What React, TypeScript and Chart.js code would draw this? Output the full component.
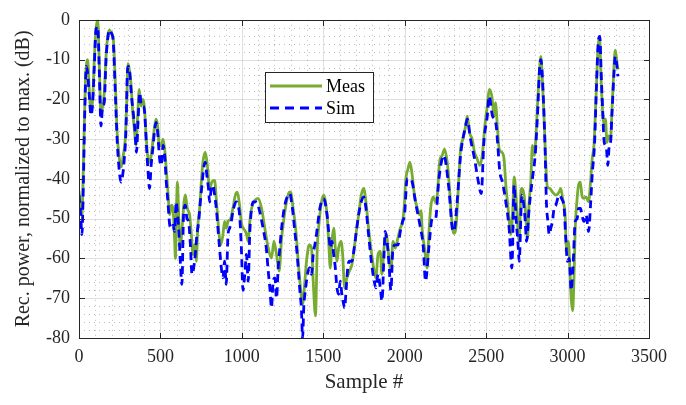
import React, { useEffect, useRef } from 'react';
import { Chart, registerables } from 'chart.js';

Chart.register(...registerables);

// ---------- data ----------
const measSamples = [
  0, 10, 18, 27, 39, 53, 63, 74, 84, 94, 104, 115, 125, 135, 145, 155, 166, 176, 186, 200,
  211, 223, 235, 248, 260, 272, 284, 293, 301, 309, 319, 330, 340, 350, 360, 370, 381, 391, 401, 411,
  421, 436, 448, 462, 473, 483, 493, 505, 516, 526, 536, 546, 557, 567, 577, 587, 592, 600, 604, 612,
  622, 632, 645, 653, 665, 679, 690, 700, 710, 720, 730, 741, 751, 761, 775, 788, 802, 816, 833, 843,
  857, 870, 884, 894, 904, 915, 931, 945, 960, 972, 986, 997, 1008, 1019, 1029, 1039, 1049, 1060, 1080, 1100,
  1121, 1141, 1162, 1182, 1197, 1213, 1229, 1244, 1258, 1274, 1291, 1299, 1315, 1332, 1346, 1360, 1373, 1387, 1397, 1414,
  1428, 1438, 1452, 1463, 1475, 1489, 1504, 1523, 1533, 1543, 1553, 1564, 1574, 1584, 1594, 1609, 1619, 1631, 1645, 1660,
  1676, 1690, 1703, 1717, 1733, 1748, 1762, 1778, 1795, 1809, 1823, 1836, 1850, 1860, 1873, 1887, 1901, 1915, 1928, 1942,
  1958, 1973, 1987, 1999, 2005, 2020, 2032, 2046, 2060, 2077, 2091, 2100, 2108, 2122, 2138, 2148, 2159, 2175, 2189, 2200,
  2214, 2230, 2245, 2261, 2275, 2288, 2302, 2316, 2329, 2343, 2357, 2374, 2384, 2398, 2414, 2429, 2445, 2461, 2476, 2492,
  2507, 2519, 2535, 2549, 2557, 2570, 2580, 2596, 2610, 2621, 2631, 2641, 2651, 2662, 2672, 2682, 2692, 2703, 2713, 2719,
  2733, 2743, 2754, 2764, 2774, 2784, 2795, 2805, 2815, 2825, 2836, 2846, 2856, 2866, 2876, 2891, 2907, 2928, 2948, 2958,
  2973, 2985, 2993, 3005, 3014, 3022, 3031, 3039, 3047, 3057, 3067, 3078, 3088, 3100, 3114, 3129, 3141, 3151, 3162, 3170,
  3178, 3186, 3196, 3207, 3217, 3227, 3233, 3241, 3252, 3264, 3272, 3282, 3293, 3301, 3309,
];
const measValues = [
  -43, -48, -49, -36.6, -16, -10, -17.5, -23.3, -20, -10, -2.6, 0, -11.7, -24, -21.7, -18.4, -9.2, -4.2, -2.6, -3.4,
  -5, -15.9, -29, -35, -37, -34, -30, -20.8, -11, -12.5, -16, -23.3, -27.5, -31.6, -24.2, -17.5, -21.7, -20, -21.7, -28.3,
  -34, -35.8, -32.5, -27.5, -25, -26.7, -31.6, -31.6, -30, -32.5, -37.5, -43.3, -49, -46.6, -47.4, -55, -60, -45, -40.8, -49,
  -57.4, -53, -45.8, -44, -47.4, -49, -54, -59, -56.6, -60.7, -51.6, -47.4, -40.8, -35.8, -33.3, -36.6, -42.4, -40.8, -40.4, -45,
  -52.4, -56.6, -54, -50.7, -52.4, -50.7, -50, -47.4, -44.1, -43.3, -46.6, -51, -52.4, -53, -54, -55.7, -50.7, -47.4, -45.4, -44.9,
  -47.4, -52.4, -57.4, -59.9, -55.7, -59, -63.2, -54.9, -50, -45.8, -43.3, -43.3, -47.4, -53.2, -60.7, -67.4, -71.5, -65.7, -60.7, -56.6,
  -57.4, -65.7, -74.4, -57.4, -50.7, -45.8, -44.1, -49, -55.7, -62.4, -55.7, -52.4, -57.4, -60.7, -57.4, -55.7, -59, -67.4, -64.9, -63.2,
  -61.5, -57.4, -53.2, -49, -44.1, -42.4, -45.8, -52.4, -58.2, -62.4, -64.9, -59, -58.2, -64, -57.4, -54, -59, -63.2, -55.7, -57.4,
  -54.9, -52.4, -50.7, -45.8, -40.8, -37.5, -35.8, -39.1, -44.1, -47.4, -49, -48, -53.2, -57.4, -62.4, -54, -47.4, -44.5, -45.8, -44.1,
  -35.8, -34.1, -32.5, -35.8, -42.4, -50, -53.7, -51.6, -42.4, -32.5, -30, -26.7, -24.2, -28.3, -30, -33.3, -35, -36.6, -34.1, -26.7,
  -21.7, -17.5, -19.2, -24.2, -20.8, -27.5, -32.5, -33.3, -35, -41.6, -45.8, -50, -54, -49, -39.5, -43.3, -50.7, -55.7, -43.3, -42.4,
  -44.1, -49, -54.9, -45.8, -40.8, -31.6, -34.1, -30, -21.7, -14.2, -9.2, -15.9, -25, -35.8, -42, -42.4, -43.3, -44.1, -43.3, -42.4,
  -45.8, -49, -57.4, -55.7, -62.4, -70, -73.2, -65.7, -52.4, -45.8, -41.6, -40.8, -44.1, -44.9, -44.5, -45.8, -40.8, -35, -31.6, -24.2,
  -15.9, -7.6, -4.2, -15.9, -24.2, -26.7, -25, -30.8, -29.2, -30, -23.3, -14.2, -7.6, -10, -12.5,
];

const simSamples = [
  0, 10, 18, 27, 35, 45, 53, 63, 74, 84, 94, 104, 115, 125, 135, 145, 155, 166, 176, 186,
  200, 211, 223, 235, 248, 258, 268, 278, 288, 298, 304, 312, 322, 333, 343, 353, 363, 373, 383, 393,
  403, 413, 423, 433, 443, 453, 463, 473, 483, 495, 505, 516, 526, 536, 546, 557, 567, 577, 587, 597,
  604, 612, 622, 632, 642, 653, 663, 673, 684, 694, 704, 714, 724, 735, 745, 755, 765, 775, 785, 795,
  802, 812, 822, 833, 843, 853, 863, 874, 884, 894, 904, 915, 925, 935, 945, 955, 966, 976, 986, 997,
  1007, 1018, 1028, 1039, 1049, 1060, 1070, 1090, 1110, 1130, 1150, 1162, 1172, 1182, 1192, 1203, 1213, 1223, 1233, 1244,
  1254, 1264, 1274, 1285, 1295, 1305, 1315, 1325, 1336, 1346, 1356, 1366, 1373, 1380, 1387, 1397, 1407, 1417, 1428, 1438,
  1448, 1458, 1468, 1479, 1489, 1499, 1508, 1523, 1533, 1543, 1553, 1564, 1574, 1584, 1594, 1604, 1614, 1625, 1631, 1640,
  1650, 1660, 1676, 1690, 1703, 1717, 1733, 1748, 1762, 1778, 1795, 1809, 1823, 1836, 1850, 1860, 1873, 1880, 1894, 1905,
  1915, 1928, 1942, 1958, 1973, 1987, 1999, 2015, 2036, 2046, 2066, 2097, 2113, 2128, 2148, 2169, 2189, 2210, 2240, 2271,
  2292, 2302, 2322, 2343, 2374, 2384, 2404, 2429, 2449, 2470, 2486, 2507, 2518, 2539, 2559, 2576, 2584, 2600, 2621, 2641,
  2658, 2672, 2682, 2696, 2703, 2719, 2739, 2748, 2764, 2784, 2801, 2815, 2829, 2836, 2850, 2862, 2870, 2879, 2887, 2897,
  2907, 2917, 2928, 2948, 2964, 2979, 2989, 2999, 3010, 3022, 3033, 3047, 3059, 3067, 3080, 3088, 3100, 3114, 3129, 3141,
  3151, 3166, 3178, 3190, 3198, 3207, 3217, 3223, 3231, 3239, 3247, 3256, 3264, 3272, 3284, 3293, 3301, 3309,
];
const simValues = [
  -44, -49, -54, -41, -24, -11.7, -13.4, -19, -24, -20.8, -11.7, -2.6, -1.7, -13.4, -26.7, -21.7, -20.8, -10, -5, -2.6,
  -3.4, -5.9, -18.4, -30.8, -38.3, -40.8, -39.1, -35, -28.3, -12.5, -11.7, -13.4, -19, -23.3, -27.5, -33.3, -25, -18.3, -21.7, -21.7,
  -23.3, -30.8, -37.5, -42.4, -36.6, -32.5, -28.3, -25.8, -28.3, -35, -36.6, -31.6, -34.1, -40.8, -45.8, -51.6, -52.4, -51.6, -53.2, -45.8,
  -48.3, -52.4, -60.7, -66.5, -49, -46.6, -50, -50.7, -56.6, -64, -62.4, -59, -54, -50.7, -45.8, -41.6, -37.5, -35.8, -39.1, -42.4,
  -45.8, -42.4, -41.6, -44.1, -47.4, -52.4, -57.4, -62.4, -64.9, -60.7, -66.5, -54, -52.4, -50.7, -48.3, -46.6, -45.8, -46.6, -49, -57.4,
  -68, -64, -59, -65.7, -53.2, -47.4, -45.8, -45.8, -48.3, -52.4, -57.4, -63.2, -67.4, -72.4, -65.7, -64.9, -70, -62.4, -57.4, -52.4,
  -49, -46.6, -45, -44.1, -43.7, -45.8, -49, -53.2, -57.4, -62.4, -68, -73, -80, -72.4, -69, -65.7, -63.2, -62.4, -64, -59,
  -56.6, -54, -50.7, -47.4, -45.8, -45, -45.4, -49, -53.2, -57.4, -55.7, -59, -62.4, -67.4, -69, -65.7, -69, -71.5, -72.4, -68,
  -62.4, -60.7, -60.7, -57.4, -53.2, -49, -45.8, -44.5, -47.4, -54, -60.7, -64.9, -67.4, -64, -67.4, -70.7, -59, -53.2, -56.6, -62.4,
  -68, -57.4, -56.6, -56.6, -53.2, -50.7, -49, -40, -40, -40.8, -45.8, -52.4, -56.6, -65.7, -57.4, -50, -50, -40, -34.1, -42.4,
  -52.4, -53.2, -45.8, -34.1, -26.7, -25, -30, -35, -40, -43.7, -30.8, -24.2, -19.2, -24.2, -25.8, -34.1, -38.3, -40.8, -45.8, -52.4,
  -62.4, -41.6, -49, -56.6, -60.7, -44.1, -50, -55.7, -47.4, -40, -34.1, -24.2, -11.7, -10, -18.4, -32.5, -45.8, -50.7, -54, -52.4,
  -50.7, -47.4, -46.6, -44.1, -45, -47.4, -55, -60.7, -60, -68, -62.4, -50.7, -50, -47.4, -47.4, -49, -50.7, -49, -53.2, -46.6,
  -39.1, -30.8, -15.9, -5, -4.2, -14.2, -24.2, -30, -31.6, -32.5, -36.6, -31.6, -30.8, -24.2, -14.2, -9.2, -10.9, -14.2,
];

const seriesNames = ['Meas', 'Sim'];
const seriesColors = ['#77AC30', '#0000FF'];
const xTickValues = [0, 500, 1000, 1500, 2000, 2500, 3000, 3500];
const yTickValues = [-80, -70, -60, -50, -40, -30, -20, -10, 0];
const xMinorStep = 100;
const yMinorStep = 2;
const xTitle = 'Sample #';
const yTitle = 'Rec. power, normalized to max. (dB)';

const FONT = "'Liberation Serif', 'Times New Roman', serif";
const AXIS_COLOR = '#262626';

const matlabPlugin = {
  id: 'matlabAxes',
  beforeDatasetsDraw(chart: any) {
    const { ctx, chartArea: a, scales } = chart;
    const xs = scales.x, ys = scales.y;
    ctx.save();
    // minor dotted grid
    ctx.strokeStyle = 'rgba(38,38,38,0.3)';
    ctx.lineWidth = 1;
    ctx.setLineDash([1, 4]);
    for (let v = xs.min; v <= xs.max; v += xMinorStep) {
      if (xTickValues.includes(v)) continue;
      const px = Math.round(xs.getPixelForValue(v)) + 0.5;
      ctx.beginPath(); ctx.moveTo(px, a.top); ctx.lineTo(px, a.bottom); ctx.stroke();
    }
    for (let v = ys.min; v <= ys.max; v += yMinorStep) {
      if (yTickValues.includes(v)) continue;
      const py = Math.round(ys.getPixelForValue(v)) + 0.5;
      ctx.beginPath(); ctx.moveTo(a.left, py); ctx.lineTo(a.right, py); ctx.stroke();
    }
    // major solid grid
    ctx.setLineDash([]);
    ctx.strokeStyle = 'rgba(38,38,38,0.15)';
    xTickValues.forEach((v) => {
      const px = Math.round(xs.getPixelForValue(v)) + 0.5;
      ctx.beginPath(); ctx.moveTo(px, a.top); ctx.lineTo(px, a.bottom); ctx.stroke();
    });
    yTickValues.forEach((v) => {
      const py = Math.round(ys.getPixelForValue(v)) + 0.5;
      ctx.beginPath(); ctx.moveTo(a.left, py); ctx.lineTo(a.right, py); ctx.stroke();
    });
    ctx.restore();
  },
  afterDatasetsDraw(chart: any) {
    const { ctx, chartArea: a, scales } = chart;
    const xs = scales.x, ys = scales.y;
    ctx.save();
    ctx.setLineDash([]);
    ctx.strokeStyle = AXIS_COLOR;
    ctx.lineWidth = 1;
    const L = Math.round(a.left) + 0.5, R = Math.round(a.right) + 0.5;
    const T = Math.round(a.top) + 0.5, B = Math.round(a.bottom) + 0.5;
    ctx.strokeRect(L, T, R - L, B - T);
    const tl = 5.5;
    xTickValues.forEach((v) => {
      const px = Math.round(xs.getPixelForValue(v)) + 0.5;
      ctx.beginPath();
      ctx.moveTo(px, B); ctx.lineTo(px, B - tl);
      ctx.moveTo(px, T); ctx.lineTo(px, T + tl);
      ctx.stroke();
    });
    yTickValues.forEach((v) => {
      const py = Math.round(ys.getPixelForValue(v)) + 0.5;
      ctx.beginPath();
      ctx.moveTo(L, py); ctx.lineTo(L + tl, py);
      ctx.moveTo(R, py); ctx.lineTo(R - tl, py);
      ctx.stroke();
    });

    // legend
    const lx = 265.5, ly = 72.5, lw = 108, lh = 50;
    ctx.fillStyle = '#ffffff';
    ctx.fillRect(lx, ly, lw, lh);
    ctx.strokeStyle = AXIS_COLOR;
    ctx.strokeRect(lx, ly, lw, lh);
    const rows = [86, 108];
    seriesNames.forEach((name, i) => {
      ctx.beginPath();
      ctx.lineWidth = 2.8;
      ctx.strokeStyle = seriesColors[i];
      ctx.setLineDash(i === 1 ? [9, 6] : []);
      ctx.moveTo(270, rows[i]); ctx.lineTo(322, rows[i]);
      ctx.stroke();
      ctx.setLineDash([]);
      ctx.fillStyle = '#000000';
      ctx.font = `18px ${FONT}`;
      ctx.textBaseline = 'middle';
      ctx.textAlign = 'left';
      ctx.fillText(name, 326, rows[i] + 1);
    });
    ctx.restore();
  },
};

export default function App() {
  const ref = useRef<HTMLCanvasElement | null>(null);
  useEffect(() => {
    document.body.style.margin = '0';
    const canvas = ref.current!;
    const chart = new Chart(canvas, {
      type: 'line',
      data: {
        datasets: [
          {
            label: seriesNames[0],
            data: measSamples.map((x, i) => ({ x, y: measValues[i] })),
            borderColor: seriesColors[0],
            borderWidth: 2.8,
            pointRadius: 0,
            fill: false,
            cubicInterpolationMode: 'monotone',
            order: 1,
          },
          {
            label: seriesNames[1],
            data: simSamples.map((x, i) => ({ x, y: simValues[i] })),
            borderColor: seriesColors[1],
            borderWidth: 2.8,
            borderDash: [8, 5],
            pointRadius: 0,
            fill: false,
            cubicInterpolationMode: 'monotone',
            order: 0,
          },
        ],
      },
      options: {
        responsive: false,
        animation: false,
        devicePixelRatio: 1,
        layout: { padding: { top: 17, right: 37, left: 0, bottom: 0 } },
        plugins: { legend: { display: false }, tooltip: { enabled: false } },
        events: [],
        scales: {
          x: {
            type: 'linear',
            min: 0,
            max: 3500,
            afterFit: (s: any) => { s.height = 67; },
            afterBuildTicks: (s: any) => { s.ticks = xTickValues.map((v) => ({ value: v })); },
            ticks: {
              autoSkip: false,
              maxRotation: 0,
              padding: 8,
              color: AXIS_COLOR,
              font: { family: FONT, size: 18 },
              callback: (v: any) => String(v),
            },
            grid: { display: false, drawTicks: false },
            border: { display: false },
            title: {
              display: true,
              text: xTitle,
              color: AXIS_COLOR,
              font: { family: FONT, size: 21 },
              padding: { top: 0, bottom: 10 },
            },
          },
          y: {
            type: 'linear',
            min: -80,
            max: 0,
            afterFit: (s: any) => { s.width = 79; },
            afterBuildTicks: (s: any) => { s.ticks = yTickValues.map((v) => ({ value: v })); },
            ticks: {
              autoSkip: false,
              padding: 9,
              color: AXIS_COLOR,
              font: { family: FONT, size: 18 },
              callback: (v: any) => String(v),
            },
            grid: { display: false, drawTicks: false },
            border: { display: false },
            title: {
              display: true,
              text: yTitle,
              color: AXIS_COLOR,
              font: { family: FONT, size: 20 },
              padding: { top: 12, bottom: 0 },
            },
          },
        },
      },
      plugins: [matlabPlugin],
    } as any);
    return () => chart.destroy();
  }, []);
  return (
    <div style={{ width: 686, height: 405 }}>
      <canvas ref={ref} width={686} height={405} style={{ display: 'block' }} />
    </div>
  );
}
